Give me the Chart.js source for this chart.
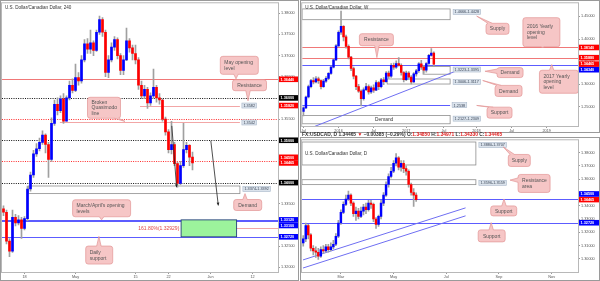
<!DOCTYPE html>
<html>
<head>
<meta charset="utf-8">
<script src="https://cdn.jsdelivr.net/npm/chart.js@4.4.1/dist/chart.umd.min.js"></script>
<style>
html, body { margin: 0; padding: 0; background: #fff; }
body { width: 600px; height: 281px; position: relative; overflow: hidden; font-family: "Liberation Sans", Arial, sans-serif; }
canvas { position: absolute; }
#c4h { left: 0; top: 0; }
#cw { left: 300px; top: 0; }
#cd { left: 300px; top: 137px; }
#hdr { position: absolute; left: 302px; top: 132px; font-size: 4.9px; line-height: 5px; font-weight: bold; color: #333; white-space: nowrap; }
#hdr .r { color: #e02020; }
</style>
</head>
<body>
<canvas id="c4h" width="299" height="281"></canvas>
<canvas id="cw" width="300" height="133"></canvas>
<div id="hdr">FX:USDCAD, D 1.34465 <span class="r">&#9660;</span> &minus;0.00385 (&minus;0.29%) O:<span class="r">1.34850</span> H:<span class="r">1.34971</span> L:<span class="r">1.34330</span> C:<span class="r">1.34465</span></div>
<canvas id="cd" width="300" height="144"></canvas>
<script>
// ---- 4h chart (left) ----
const h4Open0 = 1.3338;
const h4Close = [1.3330, 1.3262, 1.3238, 1.3318, 1.3305, 1.3312, 1.3292, 1.3315, 1.3385, 1.3418,
  1.3468, 1.3480, 1.3495, 1.3512, 1.3490, 1.3455, 1.3540, 1.3585, 1.3570, 1.3598,
  1.3545, 1.3600, 1.3630, 1.3618, 1.3648, 1.3640, 1.3690, 1.3728, 1.3715, 1.3730,
  1.3712, 1.3755, 1.3785, 1.3755, 1.3660, 1.3690, 1.3720, 1.3738, 1.3700, 1.3665,
  1.3690, 1.3735, 1.3718, 1.3705, 1.3690, 1.3630, 1.3605, 1.3620, 1.3588, 1.3605,
  1.3625, 1.3600, 1.3595, 1.3550, 1.3520, 1.3478, 1.3490, 1.3445, 1.3398, 1.3440,
  1.3478, 1.3488, 1.3460, 1.34465];
const h4High = [1.3345, 1.3335, 1.3268, 1.3335, 1.3325, 1.3322, 1.3318, 1.3320, 1.3392, 1.3425,
  1.3476, 1.3492, 1.3505, 1.3522, 1.3515, 1.3495, 1.3553, 1.3595, 1.3600, 1.3605,
  1.3610, 1.3605, 1.3640, 1.3645, 1.3680, 1.3660, 1.3700, 1.3738, 1.3740, 1.3760,
  1.3735, 1.3760, 1.3793, 1.3790, 1.3760, 1.3700, 1.3730, 1.3745, 1.3742, 1.3705,
  1.3700, 1.3765, 1.3740, 1.3725, 1.3725, 1.3695, 1.3640, 1.3630, 1.3625, 1.3612,
  1.3668, 1.3630, 1.3610, 1.3598, 1.3555, 1.3525, 1.3545, 1.3495, 1.3448, 1.3450,
  1.3540, 1.3495, 1.3490, 1.3472];
const h4Low = [1.3322, 1.3255, 1.3225, 1.3235, 1.3298, 1.3300, 1.3268, 1.3288, 1.3310, 1.3380,
  1.3412, 1.3462, 1.3475, 1.3490, 1.3470, 1.3412, 1.3450, 1.3535, 1.3560, 1.3565,
  1.3540, 1.3545, 1.3595, 1.3612, 1.3615, 1.3630, 1.3635, 1.3685, 1.3705, 1.3705,
  1.3700, 1.3710, 1.3750, 1.3745, 1.3650, 1.3648, 1.3685, 1.3712, 1.3692, 1.3655,
  1.3655, 1.3688, 1.3708, 1.3690, 1.3680, 1.3620, 1.3598, 1.3598, 1.3575, 1.3582,
  1.3600, 1.3590, 1.3585, 1.3545, 1.3512, 1.3470, 1.3468, 1.3440, 1.3389, 1.3395,
  1.3436, 1.3470, 1.3440, 1.3430];
const h4TickIdx = [7, 24, 44, 55, 69, 83];
const h4TickText = ['18', 'May', '15', '22', 'Jun', '12'];
const h4Levels = [1.3644, 1.3600, 1.3550, 1.3500, 1.3450, 1.3400, 1.3312, 1.3310, 1.3272];
const h4LevelKind = ['red', 'blackDot', 'redDotPlain', 'blackDot', 'redDot', 'blackDot', 'blue', 'blue', 'blue'];
const h4Segs = [
  { p: 1.3582, s1: 45.5, s2: 78.8, tag: '1.3582', axis: 'red' },
  { p: 1.3542, s1: 18.8, s2: 78.8, tag: '1.3542' },
  { p: 1.32929, s1: 59.2, s2: 92 }
];
const h4Boxes = [
  { p1: 1.3374, p2: 1.3392, s1: 8.3, s2: 78.8, tag: '1.3374-1.3392' },
  { p1: 1.3272, p2: 1.3312, s1: 59.2, s2: 77.7, fill: '#9cf39c', stroke: '#243f7a' }
];
const h4Texts = [{ text: '161.80%(1.32929)', s: 58.6, p: 1.32929 }];
const h4Arrows = [
  { s1: 56.1, p1: 1.3534, s2: 57.7, p2: 1.3389 },
  { s1: 69.1, p1: 1.3499, s2: 71.6, p2: 1.3346 }
];
const h4Notes = [
  { lines: ['May opening', 'level'], s: 78.6, p: 1.3677, w: 38, h: 18, ts: 77.5, tp: 1.3645 },
  { lines: ['Resistance'], s: 82.0, p: 1.3630, w: 34, h: 11, ts: 81.5, tp: 1.3593 },
  { lines: ['Broken', 'Quasimodo', 'line'], s: 33.5, p: 1.35767, w: 33, h: 21, ts: 40.5, tp: 1.35445 },
  { lines: ['Demand'], s: 81.4, p: 1.33471, w: 28, h: 11, ts: 80.5, tp: 1.3374 },
  { lines: ["March/April's opening", 'levels'], s: 32.7, p: 1.33394, w: 58, h: 17, ts: 32.7, tp: 1.3312 },
  { lines: ['Daily', 'support'], s: 31.9, p: 1.32289, w: 27, h: 18, ts: 31.8, tp: 1.3273 }
];

// ---- weekly chart (top right) ----
const wOpen0 = 1.2400;
const wClose = [1.2480, 1.2720, 1.2950, 1.3080, 1.3050, 1.3120, 1.3080, 1.2950, 1.3070, 1.3130,
  1.3240, 1.3380, 1.3540, 1.3850, 1.4150, 1.4280, 1.4050, 1.3840, 1.3600, 1.3350,
  1.3180, 1.2950, 1.2850, 1.2680, 1.2880, 1.2950, 1.2830, 1.2920, 1.2870, 1.3040,
  1.2950, 1.3100, 1.3060, 1.3250, 1.3180, 1.3420, 1.3380, 1.3460, 1.3420, 1.3260,
  1.3100, 1.3250, 1.3160, 1.3050, 1.3230, 1.3300, 1.3450, 1.3380, 1.3310, 1.3460,
  1.3640, 1.3690, 1.34465];
const wHigh = [1.2500, 1.2740, 1.2980, 1.3110, 1.3150, 1.3170, 1.3160, 1.3100, 1.3110, 1.3170,
  1.3260, 1.3400, 1.3570, 1.3880, 1.4180, 1.4620, 1.4300, 1.4090, 1.3870, 1.3620,
  1.3380, 1.3200, 1.3000, 1.2880, 1.2920, 1.3020, 1.2990, 1.2960, 1.2990, 1.3080,
  1.3060, 1.3130, 1.3150, 1.3280, 1.3290, 1.3460, 1.3470, 1.3520, 1.3590, 1.3450,
  1.3280, 1.3290, 1.3280, 1.3190, 1.3260, 1.3330, 1.3480, 1.3530, 1.3420, 1.3480,
  1.3660, 1.3790, 1.3720];
const wLow = [1.2300, 1.2460, 1.2700, 1.2920, 1.3010, 1.3030, 1.3020, 1.2900, 1.2930, 1.3040,
  1.3100, 1.3220, 1.3360, 1.3520, 1.3840, 1.4100, 1.3960, 1.3800, 1.3560, 1.3300,
  1.3120, 1.2880, 1.2820, 1.2520, 1.2650, 1.2860, 1.2780, 1.2800, 1.2820, 1.2860,
  1.2880, 1.2920, 1.2990, 1.3040, 1.3130, 1.3150, 1.3330, 1.3350, 1.3400, 1.3200,
  1.3050, 1.3080, 1.3110, 1.3010, 1.3040, 1.3180, 1.3260, 1.3330, 1.3240, 1.3270,
  1.3440, 1.3620, 1.3390];
const wTickIdx = [0, 14, 28, 41, 56, 69, 83, 97];
const wTickText = ['Jul', '2016', 'Jul', '2017', 'Jul', '2018', 'Jul', '2019'];
const wLevels = [1.3814, 1.3588, 1.3434];
const wLevelKind = ['red', 'red', 'blue'];
const wSegs = [{ p: 1.2538, s1: -0.5, s2: 58.5, tag: '1.2538', kind: 'blue' }];
const wBoxes = [
  { p1: 1.4428, p2: 1.4666, s1: -0.5, s2: 58.5, tag: '1.4666-1.4428' },
  { p1: 1.3223, p2: 1.3395, s1: 47.7, s2: 58.5, tag: '1.3223-1.3395' },
  { p1: 1.3006, p2: 1.3117, s1: 33.4, s2: 58.5, tag: '1.3006-1.3117' },
  { p1: 1.2127, p2: 1.2309, s1: -0.5, s2: 58.5, tag: '1.2127-1.2309', inner: 'Demand', innerS: 32.2 }
];
const wTrend = [{ s1: 3.9, p1: 1.2056, s2: 61.3, p2: 1.3303 }];
const wNotes = [
  { lines: ['Supply'], s: 77.4, p: 1.4227, w: 23, h: 11, ts: 69.1, tp: 1.4507 },
  { lines: ['Resistance'], s: 29.1, p: 1.3986, w: 34, h: 12, ts: 29.3, tp: 1.3590 },
  { lines: ['2016 Yearly', 'opening', 'level'], s: 94.9, p: 1.4152, w: 37, h: 29, ts: 95.4, tp: 1.3815 },
  { lines: ['2017 Yearly', 'opening', 'level'], s: 101.9, p: 1.3056, w: 39, h: 23, ts: 99.0, tp: 1.3436 },
  { lines: ['Demand'], s: 82.4, p: 1.3259, w: 26, h: 10, ts: 72.4, tp: 1.3288 },
  { lines: ['Demand'], s: 81.8, p: 1.2854, w: 27, h: 11, ts: 71.5, tp: 1.3084 },
  { lines: ['Support'], s: 78.2, p: 1.2373, w: 25, h: 11, ts: 69.1, tp: 1.2532 }
];

// ---- daily chart (bottom right) ----
const dOpen0 = 1.3120;
const dClose = [1.3150, 1.3250, 1.3180, 1.3080, 1.3060, 1.3050, 1.3020, 1.3070, 1.3060, 1.3090,
  1.3070, 1.3090, 1.3110, 1.3170, 1.3270, 1.3350, 1.3410, 1.3450, 1.3480, 1.3420,
  1.3340, 1.3360, 1.3320, 1.3360, 1.3390, 1.3370, 1.3420, 1.3410, 1.3300, 1.3260,
  1.3320, 1.3420, 1.3480, 1.3560, 1.3620, 1.3660, 1.3720, 1.3760, 1.3690, 1.3720,
  1.3680, 1.3660, 1.3560, 1.3500, 1.3480, 1.34465];
const dHigh = [1.3175, 1.3270, 1.3260, 1.3190, 1.3100, 1.3090, 1.3080, 1.3090, 1.3100, 1.3110,
  1.3110, 1.3120, 1.3140, 1.3190, 1.3290, 1.3370, 1.3430, 1.3480, 1.3510, 1.3490,
  1.3430, 1.3390, 1.3380, 1.3390, 1.3410, 1.3420, 1.3440, 1.3440, 1.3420, 1.3310,
  1.3330, 1.3440, 1.3500, 1.3580, 1.3640, 1.3690, 1.3740, 1.3793, 1.3770, 1.3740,
  1.3740, 1.3700, 1.3670, 1.3570, 1.3530, 1.3497];
const dLow = [1.3095, 1.3130, 1.3150, 1.3060, 1.3030, 1.3010, 1.2995, 1.3010, 1.3040, 1.3050,
  1.3050, 1.3060, 1.3075, 1.3100, 1.3160, 1.3260, 1.3340, 1.3400, 1.3440, 1.3400,
  1.3320, 1.3290, 1.3300, 1.3310, 1.3330, 1.3340, 1.3360, 1.3380, 1.3280, 1.3230,
  1.3245, 1.3300, 1.3400, 1.3470, 1.3540, 1.3610, 1.3650, 1.3700, 1.3670, 1.3660,
  1.3650, 1.3630, 1.3540, 1.3480, 1.3395, 1.3433];
const dTickIdx = [15, 36, 57, 78, 99];
const dTickText = ['Mar', 'May', 'Jul', 'Sep', 'Nov'];
const dLevels = [1.3450, 1.3272];
const dLevelKind = ['blue', 'blue'];
const dBoxes = [
  { p1: 1.3707, p2: 1.3880, s1: -0.5, s2: 68.8, tag: '1.3880-1.3707' },
  { p1: 1.3559, p2: 1.3596, s1: -0.5, s2: 68.8, tag: '1.3596-1.3559' }
];
const dTrend = [
  { s1: -0.1, p1: 1.2992, s2: 64.7, p2: 1.3384 },
  { s1: -0.1, p1: 1.2931, s2: 64.7, p2: 1.3324 }
];
const dNotes = [
  { lines: ['Supply'], s: 86.1, p: 1.3741, w: 22, h: 12, ts: 79.7, tp: 1.3843 },
  { lines: ['Resistance', 'area'], s: 92.0, p: 1.3568, w: 32, h: 18, ts: 82.4, tp: 1.3593 },
  { lines: ['Support'], s: 79.9, p: 1.3361, w: 26, h: 10, ts: 80.0, tp: 1.3451 },
  { lines: ['Support'], s: 75.1, p: 1.3173, w: 27, h: 12, ts: 74.9, tp: 1.3273 }
];

const lastPrice = 1.34465;

const UP = '#0000ff', DOWN = '#ff0000', WICK = '#a0a0a0';
const FONT = '"Liberation Sans", Arial, sans-serif';
const KIND = {
  red: { line: '#f07878', dash: [], tag: '#ff0000' },
  redDot: { line: '#ff2a2a', dash: [1, 1.3], tag: '#ff0000' },
  redDotPlain: { line: '#ff2a2a', dash: [1, 1.3] },
  blackDot: { line: '#111111', dash: [1, 1.3], tag: '#000000' },
  blue: { line: '#5c5cff', dash: [], tag: '#0000ff' },
  pink: { line: '#f2a6a6', dash: [] }
};

const sx = (ch, s) => ch.scales.x.getPixelForValue(s);
const sy = (ch, p) => ch.scales.y.getPixelForValue(p);
const clamp = (v, lo, hi) => Math.max(lo, Math.min(hi, v));

function roundRect(ctx, x, y, w, h, r) {
  ctx.beginPath();
  ctx.moveTo(x + r, y);
  ctx.arcTo(x + w, y, x + w, y + h, r);
  ctx.arcTo(x + w, y + h, x, y + h, r);
  ctx.arcTo(x, y + h, x, y, r);
  ctx.arcTo(x, y, x + w, y, r);
  ctx.closePath();
}

function smallTag(ctx, x, yTop, text) {
  ctx.font = '3.8px ' + FONT;
  const w = ctx.measureText(text).width + 3, h = 5;
  ctx.fillStyle = '#dbe3ec';
  ctx.fillRect(x, yTop, w, h);
  ctx.strokeStyle = '#a9b8ca';
  ctx.lineWidth = 0.6;
  ctx.strokeRect(x, yTop, w, h);
  ctx.fillStyle = '#3a4658';
  ctx.textAlign = 'left';
  ctx.textBaseline = 'middle';
  ctx.fillText(text, x + 1.5, yTop + h / 2 + 0.3);
}

function drawNote(ctx, ch, n) {
  const cx = sx(ch, n.s), cy = sy(ch, n.p);
  const l = cx - n.w / 2, t = cy - n.h / 2, r = l + n.w, b = t + n.h;
  const tx = sx(ch, n.ts), ty = sy(ch, n.tp);
  ctx.fillStyle = '#f6c6c6';
  ctx.strokeStyle = '#e39595';
  ctx.lineWidth = 0.7;
  ctx.setLineDash([]);
  roundRect(ctx, l, t, n.w, n.h, 2.5);
  ctx.fill();
  ctx.stroke();
  let e1, e2, i1, i2;
  if (ty > b) {
    const x = clamp(tx, l + 4, r - 4);
    e1 = [x - 2.2, b]; e2 = [x + 2.2, b]; i1 = [x - 2.2, b - 1]; i2 = [x + 2.2, b - 1];
  } else if (ty < t) {
    const x = clamp(tx, l + 4, r - 4);
    e1 = [x - 2.2, t]; e2 = [x + 2.2, t]; i1 = [x - 2.2, t + 1]; i2 = [x + 2.2, t + 1];
  } else if (tx < l) {
    const y = clamp(ty, t + 3, b - 3);
    e1 = [l, y - 2.2]; e2 = [l, y + 2.2]; i1 = [l + 1, y - 2.2]; i2 = [l + 1, y + 2.2];
  } else {
    const y = clamp(ty, t + 3, b - 3);
    e1 = [r, y - 2.2]; e2 = [r, y + 2.2]; i1 = [r - 1, y - 2.2]; i2 = [r - 1, y + 2.2];
  }
  ctx.beginPath();
  ctx.moveTo(i1[0], i1[1]); ctx.lineTo(e1[0], e1[1]); ctx.lineTo(tx, ty);
  ctx.lineTo(e2[0], e2[1]); ctx.lineTo(i2[0], i2[1]); ctx.closePath();
  ctx.fill();
  ctx.beginPath();
  ctx.moveTo(e1[0], e1[1]); ctx.lineTo(tx, ty); ctx.lineTo(e2[0], e2[1]);
  ctx.stroke();
  ctx.fillStyle = '#555';
  ctx.font = '5px ' + FONT;
  ctx.textBaseline = 'middle';
  const lh = 5.6, y0 = cy - (n.lines.length - 1) * lh / 2;
  if (n.lines.length === 1) {
    ctx.textAlign = 'center';
    ctx.fillText(n.lines[0], cx, y0 + 0.3);
  } else {
    ctx.textAlign = 'left';
    n.lines.forEach((s, i) => ctx.fillText(s, l + 4, y0 + i * lh + 0.3));
  }
}

function hline(ctx, ch, p, x1, x2, k) {
  const y = Math.round(sy(ch, p)) + 0.5;
  ctx.strokeStyle = k.line;
  ctx.setLineDash(k.dash);
  ctx.lineWidth = 1;
  ctx.beginPath();
  ctx.moveTo(x1, y);
  ctx.lineTo(x2, y);
  ctx.stroke();
  ctx.setLineDash([]);
}

function makeNotes(cfg) {
  return {
    id: 'notes_' + cfg.id,
    beforeDatasetsDraw(ch) {
      const ctx = ch.ctx, a = ch.chartArea;
      ctx.save();
      ctx.beginPath();
      ctx.rect(a.left, a.top, a.right - a.left, a.bottom - a.top);
      ctx.clip();
      (cfg.boxes || []).filter(b => !b.fill).forEach(b => {
        const x1 = sx(ch, b.s1), x2 = sx(ch, b.s2), y1 = sy(ch, b.p2), y2 = sy(ch, b.p1);
        ctx.fillStyle = 'rgba(255,255,255,0.7)';
        ctx.fillRect(x1, y1, x2 - x1, y2 - y1);
        ctx.strokeStyle = '#8e8e8e';
        ctx.lineWidth = 0.8;
        ctx.strokeRect(x1, y1, x2 - x1, y2 - y1);
        if (b.inner) {
          ctx.fillStyle = '#333';
          ctx.font = '4.8px ' + FONT;
          ctx.textAlign = 'center';
          ctx.textBaseline = 'middle';
          ctx.fillText(b.inner, sx(ch, b.innerS), (y1 + y2) / 2 + 0.3);
        }
      });
      cfg.levels.forEach((p, i) => hline(ctx, ch, p, a.left, a.right, KIND[cfg.kinds[i]]));
      (cfg.segs || []).forEach(g => hline(ctx, ch, g.p, sx(ch, g.s1), sx(ch, g.s2), KIND[g.kind || 'pink']));
      (cfg.trend || []).forEach(t => {
        ctx.strokeStyle = '#6f6ff2';
        ctx.lineWidth = 1;
        ctx.beginPath();
        ctx.moveTo(sx(ch, t.s1), sy(ch, t.p1));
        ctx.lineTo(sx(ch, t.s2), sy(ch, t.p2));
        ctx.stroke();
      });
      (cfg.boxes || []).filter(b => b.fill).forEach(b => {
        const x1 = sx(ch, b.s1), x2 = sx(ch, b.s2), y1 = sy(ch, b.p2), y2 = sy(ch, b.p1);
        ctx.fillStyle = b.fill;
        ctx.fillRect(x1, y1, x2 - x1, y2 - y1);
        ctx.strokeStyle = b.stroke;
        ctx.lineWidth = 0.9;
        ctx.strokeRect(x1, y1, x2 - x1, y2 - y1);
      });
      ctx.restore();
    },
    afterDatasetsDraw(ch) {
      const ctx = ch.ctx, a = ch.chartArea;
      ctx.save();
      ctx.beginPath();
      ctx.rect(a.left, a.top, a.right - a.left, a.bottom - a.top);
      ctx.clip();
      ctx.fillStyle = '#333';
      ctx.font = '4.6px ' + FONT;
      ctx.textAlign = 'left';
      ctx.textBaseline = 'middle';
      ctx.fillText(cfg.title, a.left + 3, a.top + cfg.titleY);
      (cfg.segs || []).filter(g => g.tag).forEach(g => smallTag(ctx, sx(ch, g.s2) + 2, sy(ch, g.p) - 2.5, g.tag));
      (cfg.boxes || []).filter(b => b.tag).forEach(b => smallTag(ctx, sx(ch, b.s2) + 3, sy(ch, b.p2) + 0.6, b.tag));
      (cfg.texts || []).forEach(t => {
        ctx.fillStyle = '#e04848';
        ctx.font = '5px ' + FONT;
        ctx.textAlign = 'right';
        ctx.textBaseline = 'middle';
        ctx.fillText(t.text, sx(ch, t.s), sy(ch, t.p) + 0.3);
      });
      (cfg.arrows || []).forEach(r => {
        const x1 = sx(ch, r.s1), y1 = sy(ch, r.p1), x2 = sx(ch, r.s2), y2 = sy(ch, r.p2);
        const ang = Math.atan2(y2 - y1, x2 - x1);
        ctx.strokeStyle = '#222';
        ctx.fillStyle = '#222';
        ctx.lineWidth = 0.8;
        ctx.beginPath();
        ctx.moveTo(x1, y1);
        ctx.lineTo(x2, y2);
        ctx.stroke();
        ctx.beginPath();
        ctx.moveTo(x2, y2);
        ctx.lineTo(x2 - 3.2 * Math.cos(ang - 0.45), y2 - 3.2 * Math.sin(ang - 0.45));
        ctx.lineTo(x2 - 3.2 * Math.cos(ang + 0.45), y2 - 3.2 * Math.sin(ang + 0.45));
        ctx.closePath();
        ctx.fill();
      });
      (cfg.notes || []).forEach(n => drawNote(ctx, ch, n));
      ctx.restore();
    },
    afterDraw(ch) {
      const ctx = ch.ctx, a = ch.chartArea, H = 5.6;
      const tags = [{ p: lastPrice, bg: '#ff0000', fixed: true }];
      cfg.levels.forEach((p, i) => { const k = KIND[cfg.kinds[i]]; if (k.tag) tags.push({ p, bg: k.tag }); });
      (cfg.segs || []).filter(g => g.axis).forEach(g => tags.push({ p: g.p, bg: KIND[g.axis].tag }));
      tags.forEach(t => { t.y0 = sy(ch, t.p); t.y = t.y0; });
      const placed = tags.filter(t => t.fixed);
      tags.filter(t => !t.fixed).sort((u, v) => u.y0 - v.y0).forEach(t => {
        for (let k = 0; k < 20; k++) {
          const c = placed.find(q => Math.abs(q.y - t.y) < H - 0.01);
          if (!c) break;
          t.y = t.y0 < c.y0 ? c.y - H : c.y + H;
        }
        placed.push(t);
      });
      ctx.save();
      placed.forEach(t => {
        ctx.fillStyle = t.bg;
        ctx.fillRect(a.right + 1, t.y - H / 2, 20, H);
        ctx.fillStyle = '#fff';
        ctx.font = 'bold 3.8px ' + FONT;
        ctx.textAlign = 'left';
        ctx.textBaseline = 'middle';
        ctx.fillText(t.p.toFixed(5), a.right + 2.5, t.y + 0.3);
      });
      ctx.strokeStyle = '#b8b8b8';
      ctx.lineWidth = 1;
      ctx.strokeRect(a.left - 0.5, a.top - 0.5, a.right - a.left + 1, a.bottom - a.top + 1);
      ctx.strokeStyle = '#9a9a9a';
      ctx.strokeRect(0.5, 0.5, ch.width - 1, ch.height - 1);
      ctx.restore();
    }
  };
}

function makeChart(cfg) {
  const open = [cfg.open0].concat(cfg.close.slice(0, -1));
  const wick = cfg.close.map((c, i) => [Math.min(cfg.low[i], open[i], c), Math.max(cfg.high[i], open[i], c)]);
  const body = cfg.close.map((c, i) => [open[i], c]);
  const colors = cfg.close.map((c, i) => (c >= open[i] ? UP : DOWN));
  const labels = Array.from({ length: cfg.slots }, (_, i) => String(i));
  const tickMap = new Map(cfg.tickIdx.map((k, i) => [k, cfg.tickText[i]]));
  return new Chart(document.getElementById(cfg.id), {
    type: 'bar',
    data: {
      labels,
      datasets: [
        { data: wick, backgroundColor: WICK, barThickness: 1, grouped: false, order: 2 },
        { data: body, backgroundColor: colors, barThickness: cfg.bodyW, grouped: false, order: 1, minBarLength: 1 }
      ]
    },
    options: {
      responsive: false,
      animation: false,
      devicePixelRatio: 1,
      layout: { padding: cfg.pad },
      plugins: { legend: { display: false }, tooltip: { enabled: false } },
      scales: {
        x: {
          grid: { drawOnChartArea: false, offset: false, tickLength: 2, color: c => (tickMap.has(c.index) ? '#999' : 'rgba(0,0,0,0)') },
          border: { color: '#aaa' },
          ticks: { autoSkip: false, maxRotation: 0, padding: 1, color: '#555', font: { size: 3.8, family: FONT },
            callback: (v, i) => tickMap.get(i) || '' },
          afterFit: s => { s.height = cfg.xh; }
        },
        y: {
          position: 'right',
          min: cfg.min,
          max: cfg.max,
          grid: { drawOnChartArea: false, tickLength: 2, color: '#999' },
          border: { color: '#aaa' },
          ticks: { stepSize: cfg.step, includeBounds: false, maxTicksLimit: 100, padding: 1, color: '#555',
            font: { size: 3.8, family: FONT }, callback: v => v.toFixed(5) },
          afterFit: s => { s.width = cfg.yw; }
        }
      }
    },
    plugins: [makeNotes(cfg)]
  });
}

makeChart({
  id: 'c4h', title: 'U.S. Dollar/Canadian Dollar, 240', titleY: 4,
  open0: h4Open0, close: h4Close, high: h4High, low: h4Low,
  slots: 92, bodyW: 2, tickIdx: h4TickIdx, tickText: h4TickText,
  min: 1.31889, max: 1.38235, step: 0.005,
  pad: { left: 2, top: 2, right: 0, bottom: 0 }, yw: 21, xh: 9,
  levels: h4Levels, kinds: h4LevelKind, segs: h4Segs, boxes: h4Boxes,
  texts: h4Texts, arrows: h4Arrows, notes: h4Notes
});

makeChart({
  id: 'cw', title: 'U.S. Dollar/Canadian Dollar, W', titleY: 4,
  open0: wOpen0, close: wClose, high: wHigh, low: wLow,
  slots: 110, bodyW: 1.8, tickIdx: wTickIdx, tickText: wTickText,
  min: 1.2078, max: 1.4791, step: 0.05,
  pad: { left: 2, top: 2, right: 0, bottom: 0 }, yw: 22, xh: 7,
  levels: wLevels, kinds: wLevelKind, segs: wSegs, boxes: wBoxes,
  trend: wTrend, notes: wNotes
});

makeChart({
  id: 'cd', title: 'U.S. Dollar/Canadian Dollar, D', titleY: 13,
  open0: dOpen0, close: dClose, high: dHigh, low: dLow,
  slots: 110, bodyW: 1.8, tickIdx: dTickIdx, tickText: dTickText,
  min: 1.2901, max: 1.3893, step: 0.01,
  pad: { left: 2, top: 3, right: 0, bottom: 0 }, yw: 22, xh: 9,
  levels: dLevels, kinds: dLevelKind, boxes: dBoxes,
  trend: dTrend, notes: dNotes
});
</script>
</body>
</html>
